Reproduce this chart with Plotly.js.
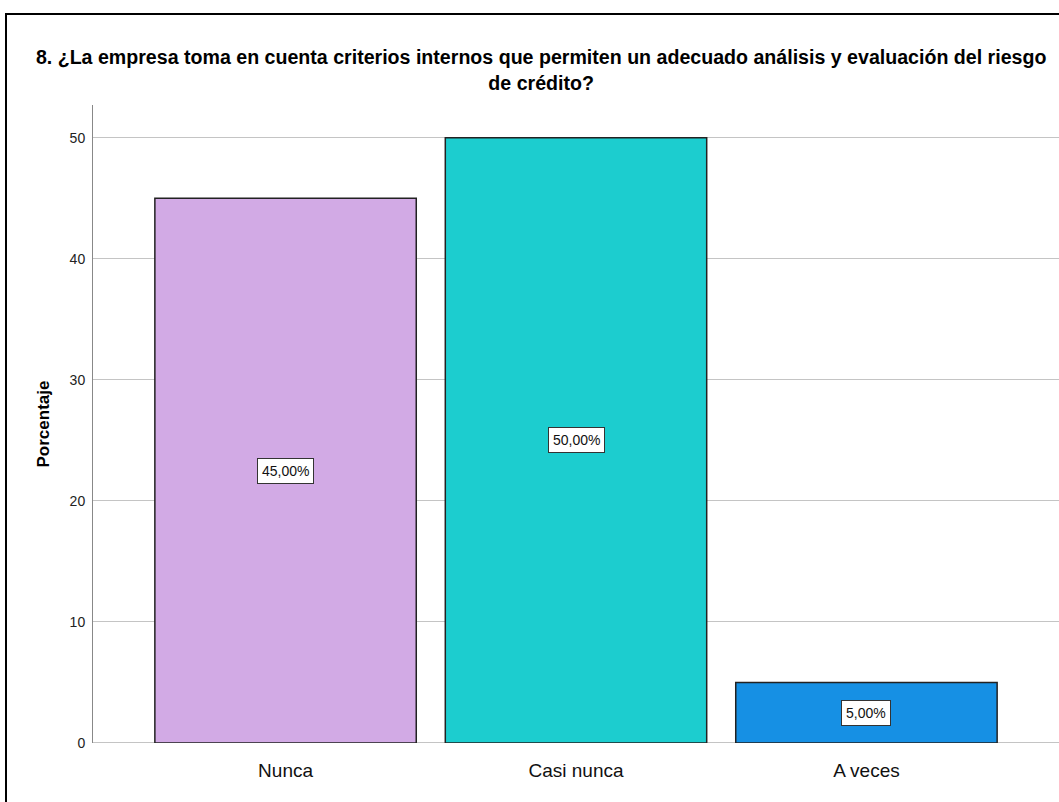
<!DOCTYPE html>
<html>
<head>
<meta charset="utf-8">
<script src="https://cdn.plot.ly/plotly-3.0.1.min.js"></script>
<style>
body{margin:0;padding:0;background:#fff;overflow:hidden;}
#chart{width:1059px;height:802px;position:absolute;left:0;top:0;}
#frame{position:absolute;left:5px;top:13px;width:1200px;height:1000px;border:2px solid #000;pointer-events:none;}
</style>
</head>
<body>
<div id="chart"></div>
<div id="frame"></div>
<script>
const categories = ["Nunca", "Casi nunca", "A veces"];
const percentages = [45, 50, 5];
const labels = ["45,00%", "50,00%", "5,00%"];
const barColors = ["#d2aae5", "#1ccdcf", "#1690e4"];
const yTicks = [0, 10, 20, 30, 40, 50];

const font = "Liberation Sans, Arial, sans-serif";

const trace = {
  type: "bar",
  x: categories,
  y: percentages,
  width: 0.9,
  marker: {color: barColors, line: {color: "#222", width: 1.5}},
  hoverinfo: "none"
};

const annotations = categories.map((c, i) => ({
  x: c, y: percentages[i] / 2, xref: "x", yref: "y",
  text: labels[i], showarrow: false,
  font: {family: font, size: 14, color: "#111"},
  bgcolor: "#ffffff", bordercolor: "#333", borderwidth: 1, borderpad: 4
}));

const layout = {
  width: 1059, height: 802,
  margin: {l: 93, r: 0, t: 105, b: 59},
  paper_bgcolor: "rgba(0,0,0,0)",
  plot_bgcolor: "rgba(0,0,0,0)",
  title: {
    text: "8. ¿La empresa toma en cuenta criterios internos que permiten un adecuado análisis y evaluación del riesgo<br>de crédito?",
    font: {family: font, size: 19.6, color: "#000", weight: "bold"},
    x: 0.511, xanchor: "center", xref: "container",
    y: 0.92, yanchor: "top", yref: "container"
  },
  xaxis: {
    type: "category",
    range: [-0.663, 2.663],
    showgrid: false, zeroline: false,
    showline: false,
    ticks: "",
    ticklabelstandoff: 14,
    tickfont: {family: font, size: 19, color: "#111"},
    fixedrange: true
  },
  yaxis: {
    range: [0, 52.7],
    tickvals: yTicks,
    ticktext: yTicks.map(String),
    showgrid: true, gridcolor: "#c4c4c4", gridwidth: 1,
    zeroline: false,
    showline: true, linecolor: "#888", linewidth: 1,
    ticks: "", ticklen: 0,
    ticklabelstandoff: 4,
    tickfont: {family: font, size: 14, color: "#222"},
    title: {text: "Porcentaje", font: {family: font, size: 17, color: "#000", weight: "bold"}, standoff: 15},
    fixedrange: true
  },
  shapes: [{
    type: "line", xref: "paper", yref: "y", x0: 0, x1: 1, y0: 0, y1: 0,
    line: {color: "#888", width: 1}, layer: "below"
  }],
  annotations: annotations,
  showlegend: false
};

Plotly.newPlot("chart", [trace], layout, {displayModeBar: false, staticPlot: true});
</script>
</body>
</html>
